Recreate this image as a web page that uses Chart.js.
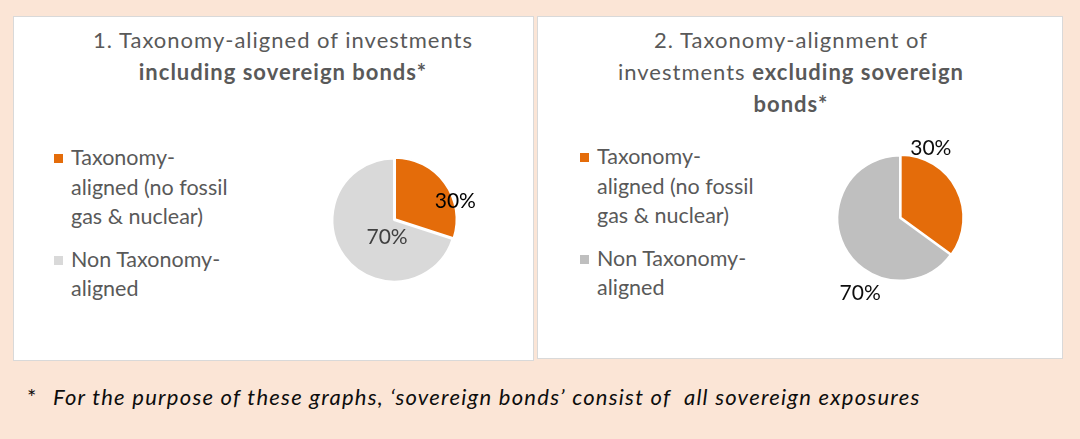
<!DOCTYPE html>
<html>
<head>
<meta charset="utf-8">
<script src="https://cdn.jsdelivr.net/npm/chart.js@4.4.0/dist/chart.umd.min.js"></script>
<style>
  body { margin: 0; width: 1080px; height: 439px; background: #FBE5D6; position: relative; overflow: hidden;
         font-family: Lato, 'Open Sans', sans-serif; }
  .panel { position: absolute; background: #fff; border: 1px solid #D9D9D9; box-sizing: border-box; }
  .title { position: absolute; text-align: center; color: #595959; font-size: 22px; line-height: 32px; letter-spacing: 1px; white-space: nowrap; }
  .title b { font-weight: bold; }
  .legend { position: absolute; color: #595959; font-size: 21.5px; line-height: 29.5px; white-space: nowrap; }
  .legend .item { position: relative; margin-bottom: 13px; }
  .legend .box { position: absolute; left: -17px; top: 11px; width: 9px; height: 9px; }
  canvas { position: absolute; }
  .note { position: absolute; top: 384px; font-size: 22px; line-height: 26px; font-style: italic; letter-spacing: 1.25px; color: #0d0d0d; white-space: nowrap; }
</style>
</head>
<body>
<div class="panel" style="left:13px; top:16px; width:521px; height:345px;"></div>
<div class="panel" style="left:537px; top:16px; width:526px; height:343px;"></div>

<div class="title" style="left:83px; top:24px; width:400px;">1. Taxonomy-aligned of investments<br><b>including sovereign bonds*</b></div>
<div class="title" style="left:591px; top:24px; width:400px;">2. Taxonomy-alignment of<br>investments <b>excluding sovereign</b><br><b>bonds*</b></div>

<div class="legend" id="legend1" style="left:71px; top:143px;"></div>
<div class="legend" id="legend2" style="left:597px; top:142px;"></div>

<canvas id="pie1" width="240" height="240" style="left:274px; top:100px;"></canvas>
<canvas id="pie2" width="240" height="240" style="left:780px; top:98px;"></canvas>

<div class="note" style="left:27px; font-style:normal; letter-spacing:0;">*</div>
<div class="note" style="left:53px;">For the purpose of these graphs, ‘sovereign bonds’ consist of &nbsp;all sovereign exposures</div>

<script>
// data
const categories = ['Taxonomy-aligned (no fossil gas & nuclear)', 'Non Taxonomy-aligned'];
const legendLines = [['Taxonomy-', 'aligned (no fossil', 'gas & nuclear)'], ['Non Taxonomy-', 'aligned']];
const values1 = [30, 70];
const values2 = [35, 65];
const shownLabels1 = ['30%', '70%'];
const shownLabels2 = ['30%', '70%'];

const orange = '#E46C0A';
const colors1 = [orange, '#D9D9D9'];
const colors2 = [orange, '#BFBFBF'];

function buildLegend(id, colors) {
    const el = document.getElementById(id);
    legendLines.forEach((lines, i) => {
        const item = document.createElement('div');
        item.className = 'item';
        item.innerHTML = '<span class="box" style="background:' + colors[i] + '"></span>' + lines.join('<br>').replace('&', '&amp;');
        el.appendChild(item);
    });
}
buildLegend('legend1', colors1);
buildLegend('legend2', colors2);

// draws the percentage labels next to / inside each slice
const pieLabels = {
    id: 'pieLabels',
    afterDatasetsDraw(chart, args, opts) {
        const ctx = chart.ctx;
        const meta = chart.getDatasetMeta(0);
        ctx.save();
        ctx.font = '21px Lato';
        ctx.textAlign = 'center';
        ctx.textBaseline = 'middle';
        meta.data.forEach((arc, i) => {
            const p = arc.getProps(['x', 'y', 'startAngle', 'endAngle', 'outerRadius'], true);
            const mid = (p.startAngle + p.endAngle) / 2;
            const d = p.outerRadius * opts.dist[i];
            const x = p.x + Math.cos(mid) * d + opts.nudge[i][0];
            const y = p.y + Math.sin(mid) * d + opts.nudge[i][1];
            ctx.fillStyle = opts.colors[i];
            ctx.fillText(opts.text[i], x, y);
        });
        ctx.restore();
    }
};

function makePie(id, values, colors, offsets, labelOpts) {
    return new Chart(document.getElementById(id), {
        type: 'pie',
        data: {
            labels: categories,
            datasets: [{
                data: values,
                backgroundColor: colors,
                borderColor: '#ffffff',
                borderWidth: 2,
                offset: offsets
            }]
        },
        options: {
            responsive: false,
            animation: false,
            devicePixelRatio: 1,
            layout: { padding: 55 },
            plugins: {
                legend: { display: false },
                tooltip: { enabled: false },
                pieLabels: labelOpts
            }
        },
        plugins: [pieLabels]
    });
}

document.fonts.load('21px Lato').then(() => {
    makePie('pie1', values1, colors1, [5, 0], {
        text: shownLabels1,
        colors: ['#000000', '#404040'],
        dist: [0.75, 0.4],
        nudge: [[24, 8], [13, 3]]
    });
    makePie('pie2', values2, colors2, [3, 0], {
        text: shownLabels2,
        colors: ['#0d0d0d', '#0d0d0d'],
        dist: [1.2, 1.2],
        nudge: [[-36, -36], [27, 41]]
    });
});
</script>
</body>
</html>
